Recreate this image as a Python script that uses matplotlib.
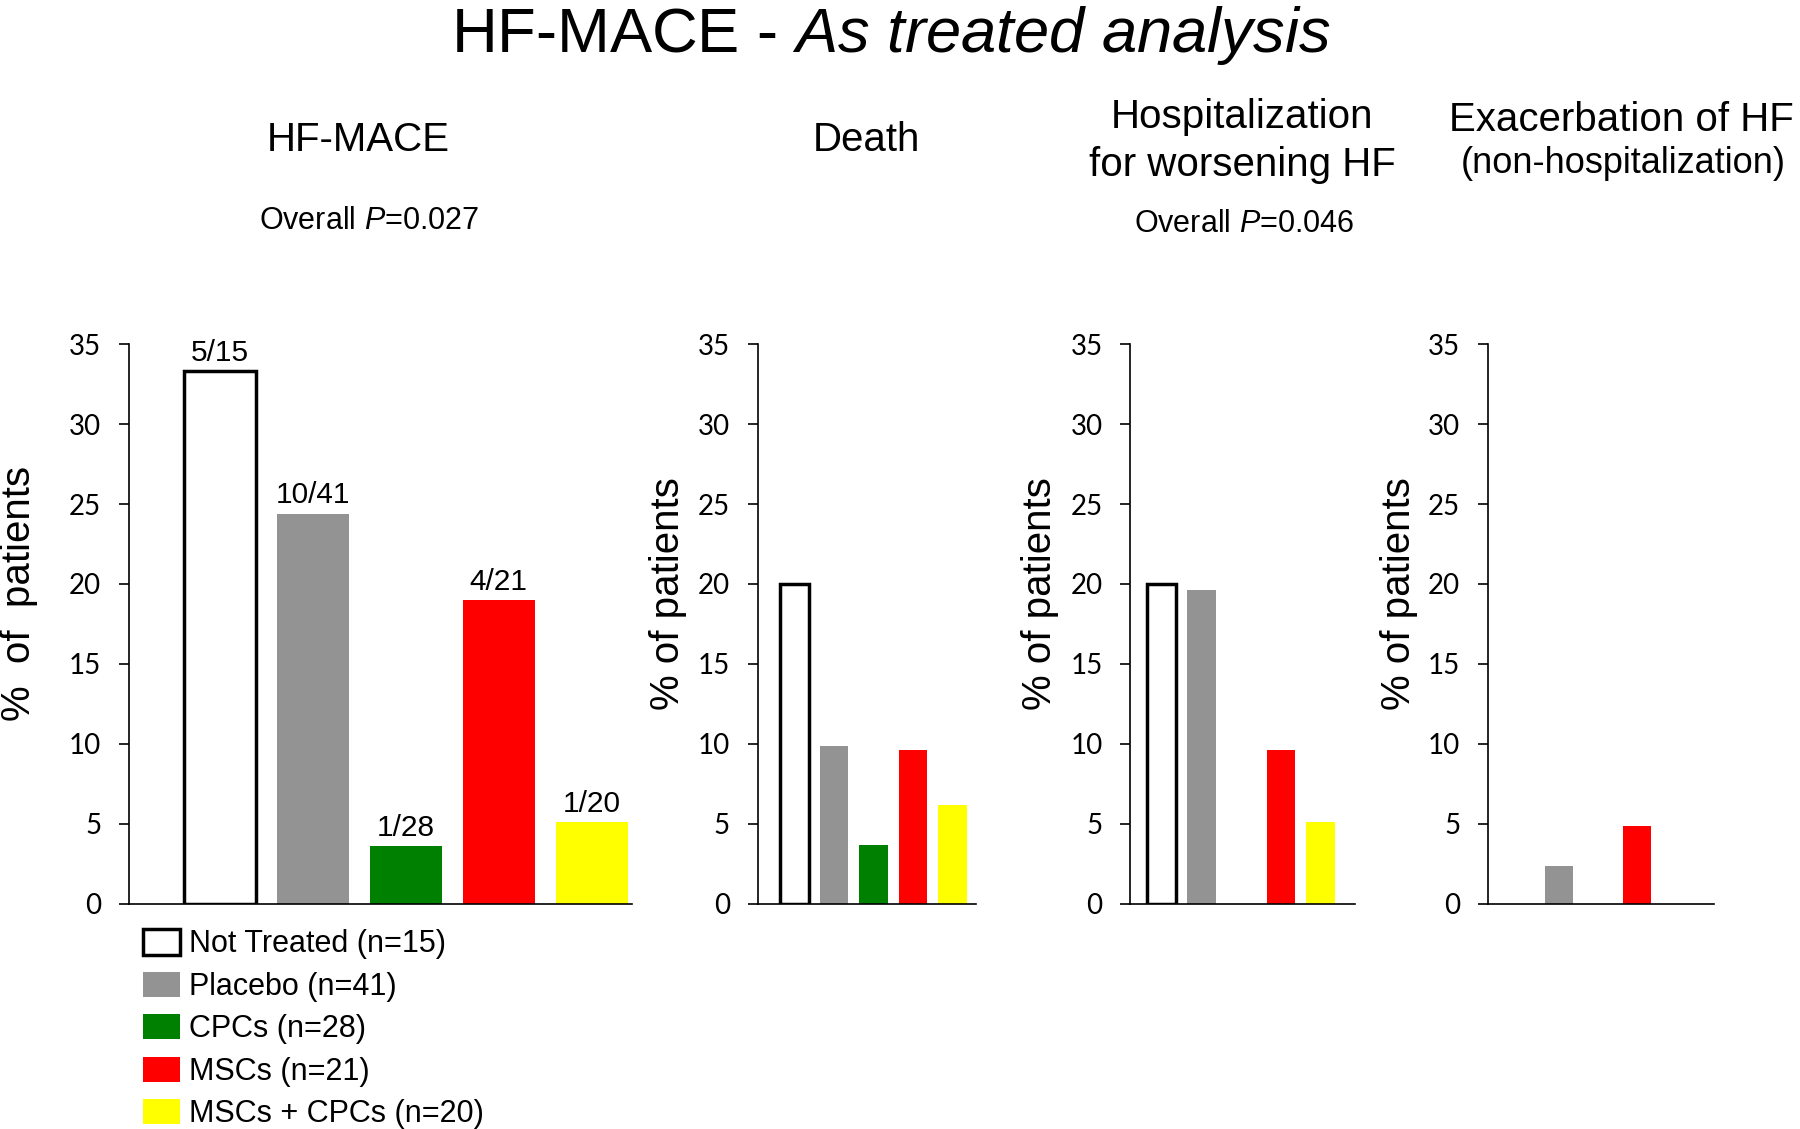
import matplotlib
matplotlib.use('Agg')
from matplotlib import pyplot as plt
from matplotlib.patches import Patch

plt.rcParams['font.family'] = ['Liberation Sans', 'DejaVu Sans']
plt.rcParams['mathtext.fontset'] = 'custom'
plt.rcParams['mathtext.rm'] = 'Liberation Sans'
plt.rcParams['mathtext.it'] = 'Liberation Sans:italic'

groups = ['Not Treated (n=15)', 'Placebo (n=41)', 'CPCs (n=28)',
          'MSCs (n=21)', 'MSCs + CPCs (n=20)']
colors = ['white', '#939393', '#008000', '#ff0000', '#ffff00']

hf_mace = [33.3, 24.4, 3.6, 19.0, 5.1]
hf_mace_counts = ['5/15', '10/41', '1/28', '4/21', '1/20']
death = [20.0, 9.9, 3.7, 9.6, 6.2]
hospitalization = [20.0, 19.6, 0, 9.6, 5.1]
exacerbation = [0, 2.4, 0, 4.9, 0]

yticks = [0, 5, 10, 15, 20, 25, 30, 35]

# (left, right) in figure fraction, xlim, bar width
panels = [
    (hf_mace, (0.0716, 0.351), (-0.98, 4.43), 0.78),
    (death, (0.421, 0.542), (-0.93, 4.58), 0.72),
    (hospitalization, (0.628, 0.753), (-0.78, 4.87), 0.72),
    (exacerbation, (0.8267, 0.952), (-0.82, 4.97), 0.72),
]
ylabel_x = [0.0105, 0.371, 0.578, 0.777]

fig = plt.figure(figsize=(18, 11.29), dpi=100)
bottom, top = 0.1993, 0.6953

axes_list = []
for (values, (l, r), xlim, width), lx in zip(panels, ylabel_x):
    ax = fig.add_axes([l, bottom, r - l, top - bottom])
    xs = list(range(len(values)))
    bars = ax.bar(xs, values, width=width, color=colors, linewidth=0)
    # not treated bar gets the black outline (only if it has a height)
    if values[0] > 0:
        bars[0].set_edgecolor('black')
        bars[0].set_linewidth(2.5)
    ax.set_xlim(*xlim)
    ax.set_ylim(0, 35)
    ax.set_yticks(yticks)
    ax.set_xticks([])
    for side in ['top', 'right']:
        ax.spines[side].set_visible(False)
    for side in ['left', 'bottom']:
        ax.spines[side].set_linewidth(1.2)
    ax.tick_params(axis='y', direction='out', length=7, width=1.2, pad=13)
    for lab in ax.get_yticklabels():
        lab.set_fontfamily('Lato')
        lab.set_fontsize(20)
    label = '%  of  patients' if lx < 0.05 else '% of patients'
    fig.text(lx, 0.474, label, rotation=90, fontsize=29,
             ha='center', va='center')
    axes_list.append(ax)

for x, (v, txt) in enumerate(zip(hf_mace, hf_mace_counts)):
    axes_list[0].annotate(txt, (x, v), xytext=(0, 3),
                          textcoords='offset points', ha='center',
                          va='bottom', fontsize=21.5)

fig.text(0.495, 0.954, r'HF-MACE - $\it{As\ treated\ analysis}$',
         ha='center', va='baseline', fontsize=45.5)

fig.text(0.199, 0.876, 'HF-MACE', ha='center', va='center', fontsize=29)
fig.text(0.205, 0.804, r'Overall $\it{P}$=0.027', ha='center',
         va='center', fontsize=22)
fig.text(0.4815, 0.876, 'Death', ha='center', va='center', fontsize=29)
fig.text(0.690, 0.896, 'Hospitalization', ha='center', va='center',
         fontsize=29)
fig.text(0.690, 0.854, 'for worsening HF', ha='center', va='center',
         fontsize=29)
fig.text(0.691, 0.802, r'Overall $\it{P}$=0.046', ha='center',
         va='center', fontsize=22)
fig.text(0.901, 0.894, 'Exacerbation of HF', ha='center', va='center',
         fontsize=29)
fig.text(0.902, 0.855, '(non-hospitalization)', ha='center', va='center',
         fontsize=26)

handles = []
for name, c in zip(groups, colors):
    if c == 'white':
        handles.append(Patch(facecolor='white', edgecolor='black',
                             linewidth=2.5, label=name))
    else:
        handles.append(Patch(facecolor=c, edgecolor='none', label=name))
fig.legend(handles=handles, loc='upper left',
           bbox_to_anchor=(0.0797, 0.177), frameon=False, fontsize=22,
           borderpad=0, borderaxespad=0, labelspacing=0.4,
           handlelength=1.2, handleheight=0.9, handletextpad=0.3)

plt.savefig('out.png')
